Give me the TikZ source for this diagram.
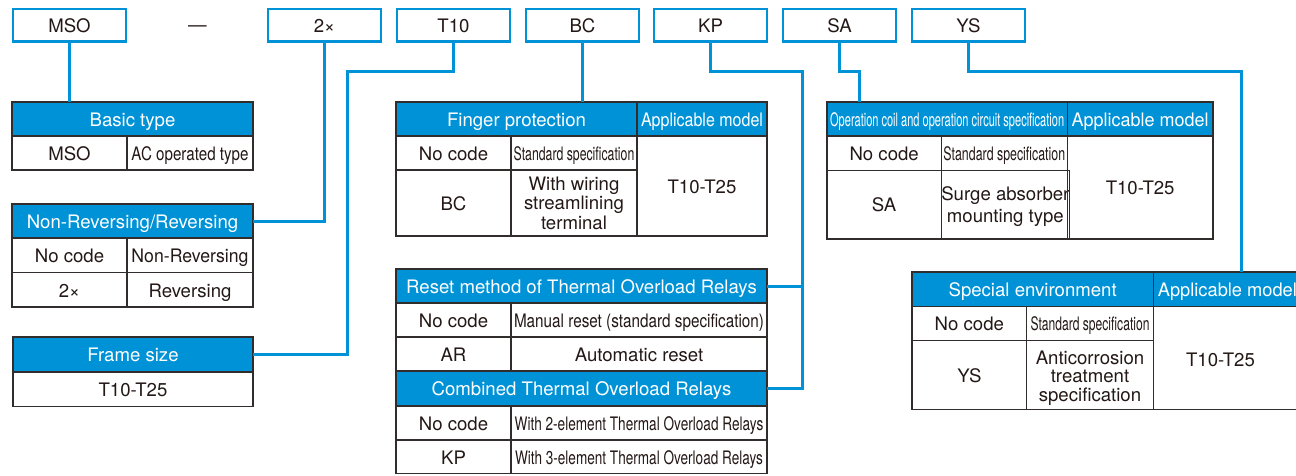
\documentclass[tikz,border=0pt]{standalone}
\usepackage{fontspec}
\setmainfont{TeX Gyre Heros}
\usepackage{graphicx}
\definecolor{hblue}{RGB}{0,146,214}
\definecolor{tgray}{RGB}{50,45,45}
\definecolor{txt}{RGB}{35,24,21}
\newcommand\cnd[2]{\resizebox{#1pt}{\height}{#2}}
\newcommand\fs{\fontsize{18.6}{19.5}\selectfont}
\tikzset{
  wh/.style 2 args={minimum width=#1pt, minimum height=#2pt},
  cell/.style={draw=tgray, line width=1.2pt, inner sep=0pt, outer sep=0pt,
    anchor=north west, align=center, text=txt, font=\fs,
    text height=14.6pt, text depth=0pt},
  multi/.style={text height=, text depth=},
  hcell/.style={cell, fill=hblue, text=white},
  topbox/.style={draw=hblue, line width=2.4pt, minimum width=112.6pt,
    minimum height=32.6pt, inner sep=0pt, text=txt, font=\fs,
    text height=14.6pt, text depth=0pt},
  conn/.style={draw=hblue, line width=3pt},
  lbl/.style={inner sep=0pt, font=\fs}
}
\begin{document}
\begin{tikzpicture}[x=1pt,y=-1pt]
\useasboundingbox (0,0) rectangle (1296,475);
\clip (0,0) rectangle (1296,475);

% ---- top code boxes
\node[topbox] (c-mso) at (69.5,25) {MSO};
\node[lbl, text=txt, anchor=base] (c-dash) at (197.5,31.5) {—};
\node[topbox] (c-2x) at (324.5,25) {2×};
\node[topbox] (c-t10) at (453.5,25) {T10};
\node[topbox] (c-bc) at (582.5,25) {BC};
\node[topbox] (c-kp) at (710.5,25) {KP};
\node[topbox] (c-sa) at (839.5,25) {SA};
\node[topbox] (c-ys) at (968.5,25) {YS};

% ---- Basic type
\node[hcell, wh={241}{34}] (bt-h) at (12,102) {Basic type};
\node[cell, wh={115}{34}] (bt-a) at (12,136) {MSO};
\node[cell, wh={126}{34}] (bt-b) at (127,136) {\cnd{117}{AC operated type}};

% ---- Non-Reversing/Reversing
\node[hcell, wh={241}{34}] (nr-h) at (12,204) {Non-Reversing/Reversing};
\node[cell, wh={115}{34.5}] (nr-a1) at (12,238) {No code};
\node[cell, wh={126}{34.5}] (nr-b1) at (127,238) {\cnd{117}{Non-Reversing}};
\node[cell, wh={115}{34.5}] (nr-a2) at (12,272.5) {2×};
\node[cell, wh={126}{34.5}] (nr-b2) at (127,272.5) {Reversing};

% ---- Frame size
\node[hcell, wh={240}{35}] (fs-h) at (13,337) {Frame size};
\node[cell, wh={240}{34.5}] (fs-a) at (13,372) {T10-T25};

% ---- Finger protection
\node[hcell, wh={241}{34}] (fp-h1) at (396,102) {Finger protection};
\node[hcell, wh={130}{34}] (fp-h2) at (637,102) {\cnd{122}{Applicable model}};
\node[cell, wh={115}{34}] (fp-a1) at (396,136) {No code};
\node[cell, wh={126}{34}] (fp-b1) at (511,136) {\cnd{120.7}{Standard specification}};
\node[cell, wh={115}{66}] (fp-a2) at (396,170) {BC};
\node[cell, multi, wh={126}{66}] (fp-b2) at (511,170) {With wiring\\streamlining\\terminal};
\node[cell, wh={130}{100}] (fp-m) at (637,136) {T10-T25};

% ---- Reset method / Combined
\node[hcell, wh={371}{34}] (rs-h) at (396,269) {Reset method of Thermal Overload Relays};
\node[cell, wh={115}{34}] (rs-a1) at (396,303) {No code};
\node[cell, wh={256}{34}] (rs-b1) at (511,303) {\cnd{250}{Manual reset (standard specification)}};
\node[cell, wh={115}{34}] (rs-a2) at (396,337) {AR};
\node[cell, wh={256}{34}] (rs-b2) at (511,337) {Automatic reset};
\node[hcell, wh={371}{35}] (ct-h) at (396,371) {Combined Thermal Overload Relays};
\node[cell, wh={115}{34}] (ct-a1) at (396,406) {No code};
\node[cell, wh={256}{34}] (ct-b1) at (511,406) {\cnd{248.7}{With 2-element Thermal Overload Relays}};
\node[cell, wh={115}{33.5}] (ct-a2) at (396,440) {KP};
\node[cell, wh={256}{33.5}] (ct-b2) at (511,440) {\cnd{248}{With 3-element Thermal Overload Relays}};

% ---- Operation coil
\node[hcell, wh={240.3}{34}] (oc-h1) at (827,102) {\cnd{234}{Operation coil and operation circuit specification}};
\node[hcell, wh={145.7}{34}] (oc-h2) at (1067.3,102) {\cnd{137}{Applicable model}};
\node[cell, wh={114.3}{34.3}] (oc-a1) at (827,136) {No code};
\node[cell, wh={126}{34.3}] (oc-b1) at (941.3,136) {\cnd{121.7}{Standard specification}};
\node[cell, wh={114.3}{68.7}] (oc-a2) at (827,170.3) {SA};
\node[cell, multi, wh={126}{68.7}] (oc-b2) at (941.3,170.3) {\rule{0pt}{18pt}Surge absorber\\[2.5pt]mounting type};
\node[cell, wh={145.7}{103}] (oc-m) at (1067.3,136) {T10-T25};

% ---- Special environment
\node[hcell, wh={241.3}{34.5}] (se-h1) at (912,272) {Special environment};
\node[hcell, wh={160}{34.5}] (se-h2) at (1153.3,272) {};
\node[lbl, text=white, anchor=base west] (se-h2t) at (1157.7,296.5) {\cnd{139}{Applicable model}};
\node[cell, wh={114.7}{34.2}] (se-a1) at (912,306.5) {No code};
\node[cell, wh={126.6}{34.2}] (se-b1) at (1026.7,306.5) {\cnd{119}{Standard specification}};
\node[cell, wh={114.7}{68.6}] (se-a2) at (912,340.7) {YS};
\node[cell, multi, wh={126.6}{68.6}] (se-b2) at (1026.7,340.7) {\rule{0pt}{19.4pt}Anticorrosion\\[-1pt]treatment\\[-1pt]specification};
\node[cell, wh={160}{102.8}] (se-m) at (1153.3,306.5) {};
\node[lbl, text=txt, anchor=base] (se-mt) at (1220.5,366) {T10-T25};

% ---- connectors
\coordinate (t10turn) at (347.5,71);
\coordinate (kpturn) at (802,71);
\coordinate (saturn) at (859,71);
\coordinate (ysturn) at (1241.7,71);

\draw[conn] (c-mso.south) -- (c-mso.south |- bt-h.north);
\draw[conn] (c-2x.south) |- (nr-h.east);
\draw[conn] (c-t10.south) |- (t10turn) |- (fs-h.east);
\draw[conn] (c-bc.south) -- (c-bc.south |- fp-h1.north);
\draw[conn] (c-kp.south) |- (kpturn) |- (ct-h.east);
\draw[conn] (rs-h.east) -- (rs-h.east -| kpturn);
\draw[conn] (c-sa.south) |- (saturn) -- (saturn |- oc-h1.north);
\draw[conn] (c-ys.south) |- (ysturn) -- (ysturn |- se-h2.north);
\end{tikzpicture}
\end{document}
